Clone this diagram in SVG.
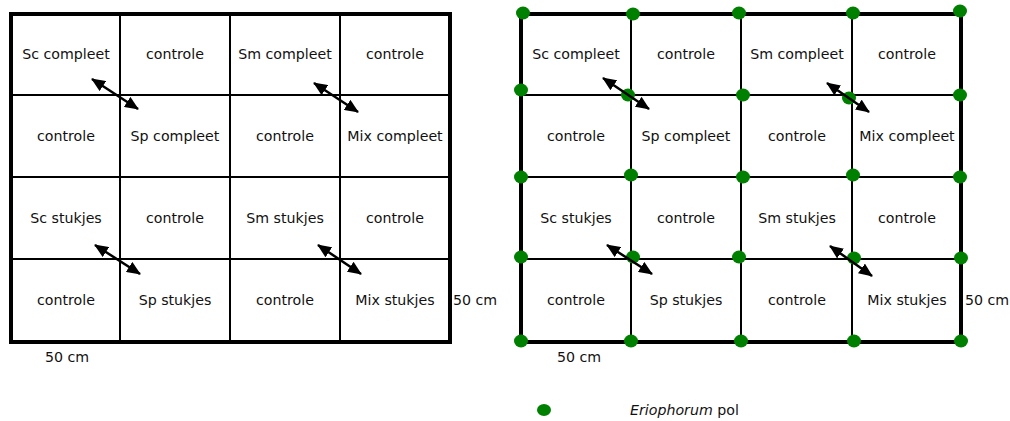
<svg xmlns="http://www.w3.org/2000/svg" width="1010" height="421" viewBox="0 0 1010 421">
<style>
text{font-family:"DejaVu Sans","Liberation Sans",sans-serif;font-size:14.2px;fill:#111}
.c{text-anchor:middle}
.outer{fill:none;stroke:#000;stroke-width:4}
.inner{stroke:#000;stroke-width:2}
.arr{stroke:#000;stroke-width:2.5;marker-start:url(#ah);marker-end:url(#ah)}
.dot{fill:#008000}
</style>
<defs>
<marker id="ah" viewBox="0 0 14 12" refX="13" refY="6" markerWidth="14" markerHeight="12" markerUnits="userSpaceOnUse" orient="auto-start-reverse">
<path d="M0,0 L14,6 L0,12 z" fill="#000"/>
</marker>
</defs>
<g id="grid-left">
<line class="inner" x1="120" y1="14" x2="120" y2="342"/>
<line class="inner" x1="230" y1="14" x2="230" y2="342"/>
<line class="inner" x1="340" y1="14" x2="340" y2="342"/>
<line class="inner" x1="11" y1="95" x2="450" y2="95"/>
<line class="inner" x1="11" y1="177" x2="450" y2="177"/>
<line class="inner" x1="11" y1="259" x2="450" y2="259"/>
<rect class="outer" x="11" y="14" width="439" height="328"/>
<text class="c" x="66" y="59">Sc compleet</text>
<text class="c" x="175" y="59">controle</text>
<text class="c" x="285" y="59">Sm compleet</text>
<text class="c" x="395" y="59">controle</text>
<text class="c" x="66" y="141">controle</text>
<text class="c" x="175" y="141">Sp compleet</text>
<text class="c" x="285" y="141">controle</text>
<text class="c" x="395" y="141">Mix compleet</text>
<text class="c" x="66" y="223">Sc stukjes</text>
<text class="c" x="175" y="223">controle</text>
<text class="c" x="285" y="223">Sm stukjes</text>
<text class="c" x="395" y="223">controle</text>
<text class="c" x="66" y="305">controle</text>
<text class="c" x="175" y="305">Sp stukjes</text>
<text class="c" x="285" y="305">controle</text>
<text class="c" x="395" y="305">Mix stukjes</text>
<text x="45" y="362">50 cm</text>
<text x="453" y="305">50 cm</text>
</g>
<g id="grid-right">
<line class="inner" x1="631" y1="14" x2="631" y2="342"/>
<line class="inner" x1="741" y1="14" x2="741" y2="342"/>
<line class="inner" x1="852" y1="14" x2="852" y2="342"/>
<line class="inner" x1="521" y1="95" x2="961" y2="95"/>
<line class="inner" x1="521" y1="177" x2="961" y2="177"/>
<line class="inner" x1="521" y1="259" x2="961" y2="259"/>
<rect class="outer" x="521" y="14" width="440" height="328"/>
<text class="c" x="576" y="59">Sc compleet</text>
<text class="c" x="686" y="59">controle</text>
<text class="c" x="797" y="59">Sm compleet</text>
<text class="c" x="907" y="59">controle</text>
<text class="c" x="576" y="141">controle</text>
<text class="c" x="686" y="141">Sp compleet</text>
<text class="c" x="797" y="141">controle</text>
<text class="c" x="907" y="141">Mix compleet</text>
<text class="c" x="576" y="223">Sc stukjes</text>
<text class="c" x="686" y="223">controle</text>
<text class="c" x="797" y="223">Sm stukjes</text>
<text class="c" x="907" y="223">controle</text>
<text class="c" x="576" y="305">controle</text>
<text class="c" x="686" y="305">Sp stukjes</text>
<text class="c" x="797" y="305">controle</text>
<text class="c" x="907" y="305">Mix stukjes</text>
<text x="557" y="362">50 cm</text>
<text x="965" y="305">50 cm</text>
</g>
<g id="dots">
<ellipse class="dot" cx="523" cy="13" rx="7" ry="6.5"/>
<ellipse class="dot" cx="633" cy="14" rx="7" ry="6.5"/>
<ellipse class="dot" cx="739" cy="13" rx="7" ry="6.5"/>
<ellipse class="dot" cx="853" cy="13" rx="7" ry="6.5"/>
<ellipse class="dot" cx="960" cy="11" rx="7" ry="6.5"/>
<ellipse class="dot" cx="521" cy="90" rx="7" ry="6.5"/>
<ellipse class="dot" cx="628" cy="95" rx="7" ry="6.5"/>
<ellipse class="dot" cx="743" cy="95" rx="7" ry="6.5"/>
<ellipse class="dot" cx="849" cy="98" rx="7" ry="6.5"/>
<ellipse class="dot" cx="960" cy="95" rx="7" ry="6.5"/>
<ellipse class="dot" cx="521" cy="177" rx="7" ry="6.5"/>
<ellipse class="dot" cx="631" cy="175" rx="7" ry="6.5"/>
<ellipse class="dot" cx="743" cy="177" rx="7" ry="6.5"/>
<ellipse class="dot" cx="853" cy="175" rx="7" ry="6.5"/>
<ellipse class="dot" cx="960" cy="177" rx="7" ry="6.5"/>
<ellipse class="dot" cx="521" cy="257" rx="7" ry="6.5"/>
<ellipse class="dot" cx="633" cy="257" rx="7" ry="6.5"/>
<ellipse class="dot" cx="739" cy="257" rx="7" ry="6.5"/>
<ellipse class="dot" cx="854" cy="258" rx="7" ry="6.5"/>
<ellipse class="dot" cx="961" cy="258" rx="7" ry="6.5"/>
<ellipse class="dot" cx="521" cy="341" rx="7" ry="6.5"/>
<ellipse class="dot" cx="631" cy="341" rx="7" ry="6.5"/>
<ellipse class="dot" cx="741" cy="341" rx="7" ry="6.5"/>
<ellipse class="dot" cx="854" cy="341" rx="7" ry="6.5"/>
<ellipse class="dot" cx="961" cy="341" rx="7" ry="6.5"/>
</g>
<g id="connectors">
<line class="arr" x1="92" y1="79" x2="138" y2="109"/>
<line class="arr" x1="314" y1="83" x2="358" y2="112"/>
<line class="arr" x1="95" y1="245" x2="140" y2="274"/>
<line class="arr" x1="318" y1="245" x2="361" y2="274"/>
<line class="arr" x1="603" y1="78" x2="649" y2="109"/>
<line class="arr" x1="827" y1="83" x2="869" y2="112"/>
<line class="arr" x1="607" y1="245" x2="652" y2="274"/>
<line class="arr" x1="830" y1="246" x2="872" y2="276"/>
</g>
<g id="legend">
<ellipse class="dot" cx="544" cy="410" rx="7" ry="6"/>
<text x="630" y="415"><tspan font-style="italic">Eriophorum</tspan> pol</text>
</g>
</svg>
